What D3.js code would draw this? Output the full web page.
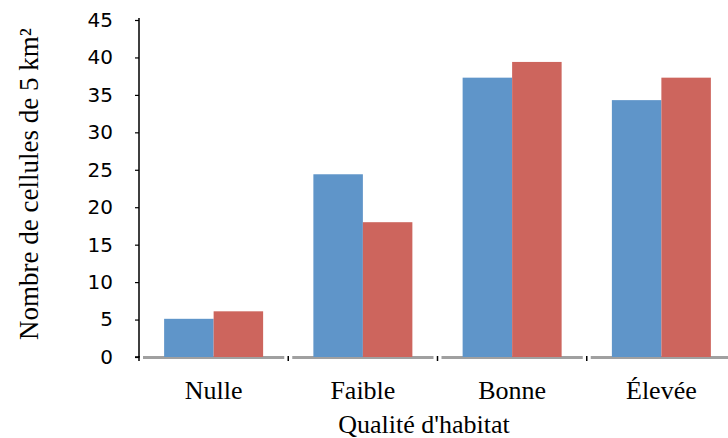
<!DOCTYPE html>
<html>
<head>
<meta charset="utf-8">
<script src="https://cdn.jsdelivr.net/npm/d3@7"></script>
<style>
  body { margin: 0; background: #fff; }
</style>
</head>
<body>
<script>
// donnees
var categories = ['Nulle', 'Faible', 'Bonne', 'Élevée'];
var serieBleue = [5.1, 24.4, 37.3, 34.3];
var serieRouge = [6.1, 18.0, 39.4, 37.3];
var yTicks = [0, 5, 10, 15, 20, 25, 30, 35, 40, 45];

var w = 728, h = 438;
var mLeft = 139, mRight = 736, mTop = 20, mBottom = 357;

var svg = d3.select('body').append('svg')
  .attr('width', w)
  .attr('height', h);

var x = d3.scaleBand().domain(categories).range([mLeft, mRight]);
var y = d3.scaleLinear().domain([0, 45]).range([mBottom, mTop]);
var groupW = 99;

var rows = categories.map(function(c, i) {
  return { cat: c, values: [serieBleue[i], serieRouge[i]] };
});
var colors = ['#5f95c9', '#cd655d'];

// axe x gris, par segments
categories.forEach(function(c) {
  svg.append('line')
    .attr('x1', x(c) + 4).attr('x2', x(c) + x.bandwidth() - 4)
    .attr('y1', mBottom + 0.5).attr('y2', mBottom + 0.5)
    .attr('stroke', '#a0a0a0')
    .attr('stroke-width', 3);
});

// barres
var g = svg.selectAll('g.grp')
  .data(rows)
  .enter()
  .append('g')
  .attr('class', 'grp');

g.selectAll('rect')
  .data(function(d) { return d.values.map(function(v, k) { return { cat: d.cat, v: v, k: k }; }); })
  .enter()
  .append('rect')
    .attr('x', function(d) { return x(d.cat) + (x.bandwidth() - groupW) / 2 + d.k * groupW / 2; })
    .attr('y', function(d) { return y(d.v); })
    .attr('width', groupW / 2)
    .attr('height', function(d) { return mBottom - y(d.v); })
    .attr('fill', function(d) { return colors[d.k]; });

// petites marques noires aux limites
categories.forEach(function(c, i) {
  var xx = x(c);
  svg.append('line')
    .attr('x1', xx).attr('x2', xx)
    .attr('y1', mBottom - 1).attr('y2', mBottom + 4)
    .attr('stroke', '#000').attr('stroke-width', 1.5);
});

// axe y
var yAxis = d3.axisLeft(y).tickValues(yTicks).tickSize(4).tickPadding(22);
var ya = svg.append('g')
  .attr('transform', 'translate(' + mLeft + ',0)')
  .call(yAxis);
ya.select('.domain').attr('stroke', '#000').attr('stroke-width', 1.5)
  .attr('d', 'M-4,' + mBottom + 'H0V' + (mTop - 2));
ya.selectAll('.tick line').attr('stroke', '#000').attr('stroke-width', 1.2);
ya.selectAll('.tick text')
  .attr('font-family', 'DejaVu Sans, sans-serif')
  .attr('font-size', 20)
  .attr('fill', '#000');

// libelles x
svg.selectAll('text.cat')
  .data(categories)
  .enter()
  .append('text')
    .attr('class', 'cat')
    .attr('x', function(d) { return x(d) + x.bandwidth() / 2; })
    .attr('y', 399)
    .attr('text-anchor', 'middle')
    .attr('font-family', 'Liberation Serif, serif')
    .attr('font-size', 26)
    .text(function(d) { return d; });

svg.append('text')
  .attr('x', 424)
  .attr('y', 433)
  .attr('text-anchor', 'middle')
  .attr('font-family', 'Liberation Serif, serif')
  .attr('font-size', 26)
  .text("Qualité d'habitat");

svg.append('text')
  .attr('transform', 'translate(38,184) rotate(-90)')
  .attr('text-anchor', 'middle')
  .attr('font-family', 'Liberation Serif, serif')
  .attr('font-size', 27)
  .text('Nombre de cellules de 5 km²');
</script>
</body>
</html>
